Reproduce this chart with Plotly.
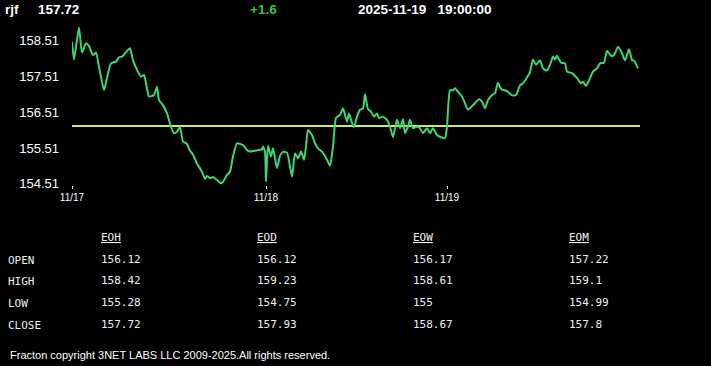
import plotly.graph_objects as go

symbol = "rjf"
last_price = "157.72"
change = "+1.6"
stamp = "2025-11-19   19:00:00"
ref_price = 156.12

bars = [0, 2, 7, 10, 14, 17, 21, 24, 27, 32, 35, 39, 44, 47, 50, 53, 58, 61, 65, 69,
        72, 74, 77, 82, 85, 87, 91, 95, 99, 102, 105, 108, 111, 115, 118, 121, 125, 130, 133, 135,
        138, 141, 145, 149, 151, 155, 158, 161, 165, 168, 171, 175, 178, 183, 186, 190, 191, 193, 194, 196,
        199, 201, 205, 208, 211, 215, 220, 223, 226, 229, 232, 234, 236, 240, 243, 246, 250, 255, 258, 261,
        264, 268, 271, 275, 277, 280, 282, 285, 288, 291, 293, 296, 299, 302, 305, 307, 311, 315, 318, 321,
        323, 325, 328, 331, 333, 336, 338, 341, 345, 348, 351, 355, 358, 361, 365, 368, 373, 375, 378, 381,
        383, 386, 390, 393, 396, 401, 407, 410, 413, 416, 420, 423, 426, 429, 435, 440, 444, 448, 451, 455,
        458, 461, 464, 468, 471, 475, 478, 481, 483, 485, 489, 493, 495, 500, 505, 509, 511, 514, 518, 521,
        525, 528, 532, 535, 539, 542, 546, 550, 553, 557, 560, 562, 566]

prices = [158.46, 157.97, 158.86, 158.16, 158.42, 158.34, 158.09, 158.16, 157.77, 157.12,
          157.45, 157.86, 157.91, 158.03, 158.05, 158.14, 158.28, 157.95, 157.68, 157.49,
          157.54, 157.31, 156.94, 156.98, 157.21, 156.84, 156.70, 156.47, 156.10, 155.92,
          155.96, 156.09, 155.69, 155.62, 155.43, 155.32, 155.07, 154.85, 154.65, 154.73,
          154.67, 154.70, 154.62, 154.53, 154.57, 154.76, 154.85, 155.27, 155.64, 155.62,
          155.59, 155.45, 155.41, 155.43, 155.45, 155.47, 155.55, 155.41, 154.58, 155.57,
          155.27, 155.50, 154.95, 155.29, 155.40, 155.38, 154.71, 155.36, 155.22, 155.41,
          155.18, 155.55, 156.01, 155.87, 155.64, 155.50, 155.41, 155.18, 155.01, 155.55,
          156.34, 156.43, 156.61, 156.24, 156.47, 156.20, 156.09, 156.38, 156.57, 156.61,
          157.01, 156.59, 156.52, 156.38, 156.47, 156.34, 156.38, 156.29, 156.10, 155.81,
          156.06, 156.29, 156.06, 156.31, 155.92, 156.10, 156.29, 156.06, 156.10, 156.06,
          155.92, 156.06, 155.92, 156.06, 155.87, 155.82, 155.78, 156.10, 157.12, 157.11,
          157.17, 157.07, 156.94, 156.75, 156.57, 156.70, 156.86, 156.80, 156.61, 156.84,
          156.98, 157.03, 157.32, 157.15, 157.09, 156.97, 156.98, 157.25, 157.31, 157.47,
          157.62, 157.97, 157.82, 157.95, 157.72, 157.66, 157.82, 158.05, 157.97, 158.07,
          157.88, 157.86, 157.63, 157.59, 157.45, 157.31, 157.35, 157.23, 157.45, 157.63,
          157.72, 157.86, 157.88, 158.21, 158.07, 158.09, 158.32, 158.14, 157.94, 158.25,
          157.95, 157.94, 157.72]

x_tick_vals = [0, 194, 375]
x_tick_text = ["11/17", "11/18", "11/19"]
y_tick_vals = [154.51, 155.51, 156.51, 157.51, 158.51]
y_tick_text = ["154.51", "155.51", "156.51", "157.51", "158.51"]

row_labels = ["OPEN", "HIGH", "LOW", "CLOSE"]
col_labels = ["EOH", "EOD", "EOW", "EOM"]
table_values = {
    "EOH": ["156.12", "158.42", "155.28", "157.72"],
    "EOD": ["156.12", "159.23", "154.75", "157.93"],
    "EOW": ["156.17", "158.61", "155", "158.67"],
    "EOM": ["157.22", "159.1", "154.99", "157.8"],
}
footer = "Fracton copyright 3NET LABS LLC 2009-2025.All rights reserved."

W, H = 711, 366
L, R, T, B = 72, 640, 22, 185

fig = go.Figure()
fig.add_trace(go.Scatter(x=[0, 568], y=[ref_price, ref_price], mode="lines",
                         line=dict(color="#cde86a", width=2), hoverinfo="skip"))
fig.add_trace(go.Scatter(x=bars, y=prices, mode="lines",
                         line=dict(color="#3ed672", width=2, shape="spline", smoothing=0.5)))


def px(x):
    return (x - L) / (R - L)


def py(y):
    return (B - y) / (B - T)


ann = []
hfont = dict(family="Liberation Sans, Arial", size=13.5, color="white")
ann.append(dict(x=px(3), y=py(9), text="<b>" + symbol + "</b>", font=hfont, xanchor="left", yanchor="middle"))
ann.append(dict(x=px(36), y=py(9), text="<b>" + last_price + "</b>", font=hfont, xanchor="left", yanchor="middle"))
ann.append(dict(x=px(248), y=py(9), text="<b>" + change + "</b>",
                font=dict(family="Liberation Sans, Arial", size=13.5, color="#3fc23f"), xanchor="left", yanchor="middle"))
ann.append(dict(x=px(356), y=py(9), text="<b>" + stamp.replace(" ", "&nbsp;") + "</b>", font=hfont,
                xanchor="left", yanchor="middle"))

mfont = dict(family="DejaVu Sans Mono, Liberation Mono, monospace", size=11, color="#f0f0f0")
col_x = [99, 255, 411, 567]
row_y = [259, 280, 302, 324]
for cx, c in zip(col_x, col_labels):
    ann.append(dict(x=px(cx), y=py(238), text="<u>" + c + "</u>", font=mfont, xanchor="left", yanchor="middle"))
    for ry, v in zip(row_y, table_values[c]):
        ann.append(dict(x=px(cx), y=py(ry), text=v, font=mfont, xanchor="left", yanchor="middle"))
for ry, r in zip(row_y, row_labels):
    ann.append(dict(x=px(6), y=py(ry + 1), text=r, font=mfont, xanchor="left", yanchor="middle"))

ann.append(dict(x=px(8), y=py(355), text=footer,
                font=dict(family="Liberation Sans, Arial", size=11, color="white"),
                xanchor="left", yanchor="middle"))
for a in ann:
    a.update(xref="paper", yref="paper", showarrow=False)

fig.update_layout(
    width=W, height=H, margin=dict(l=L, r=W - R, t=T, b=H - B),
    paper_bgcolor="black", plot_bgcolor="black", showlegend=False,
    annotations=ann,
    xaxis=dict(range=[0, 568], tickvals=x_tick_vals, ticktext=x_tick_text, showgrid=False, zeroline=False,
               showline=False, ticks="outside", ticklen=3, tickcolor="white", tickwidth=1,
               tickfont=dict(family="Liberation Sans, Arial", size=10, color="white")),
    yaxis=dict(range=[154.48, 159.01], tickvals=y_tick_vals, ticktext=y_tick_text, showgrid=False,
               zeroline=False, showline=False, ticks="", ticklabelstandoff=12,
               tickfont=dict(family="Liberation Sans, Arial", size=13, color="white")),
)
fig.write_html("out.html")
